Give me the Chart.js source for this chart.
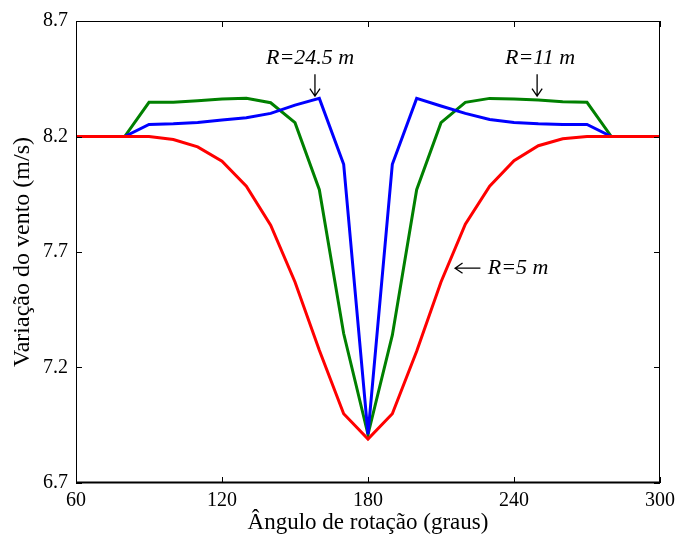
<!DOCTYPE html>
<html lang="pt">
  <head>
    <meta charset="UTF-8" />
    <title>Variação do vento</title>
    <script src="https://cdn.jsdelivr.net/npm/chart.js@4/dist/chart.umd.min.js"></script>
    <style>
      body {
        margin: 0;
        background: #fff;
      }
      .wrap {
        width: 678px;
        height: 539px;
      }
    </style>
  </head>
  <body>
    <div class="wrap"><canvas id="chart"></canvas></div>
    <script>
      // Angles (degrees)
      const angles = [60, 70, 80, 90, 100, 110, 120, 130, 140, 150, 160, 170, 180,
        190, 200, 210, 220, 230, 240, 250, 260, 270, 280, 290, 300];
      // R = 5 m
      const r5 = [8.2, 8.2, 8.2, 8.2, 8.187, 8.155, 8.093, 7.985, 7.816, 7.57, 7.275, 7.0, 6.89,
        7.0, 7.27, 7.57, 7.82, 7.985, 8.095, 8.16, 8.19, 8.2, 8.2, 8.2, 8.2];
      // R = 24.5 m
      const r245 = [8.2, 8.2, 8.2, 8.252, 8.255, 8.261, 8.271, 8.281, 8.3, 8.336, 8.365, 8.08, 6.91,
        8.08, 8.365, 8.332, 8.3, 8.274, 8.261, 8.255, 8.252, 8.252, 8.2, 8.2, 8.2];
      // R = 11 m
      const r11 = [8.2, 8.2, 8.2, 8.348, 8.348, 8.355, 8.362, 8.366, 8.346, 8.26, 7.97, 7.347, 6.91,
        7.34, 7.97, 8.26, 8.348, 8.365, 8.362, 8.358, 8.35, 8.348, 8.2, 8.2, 8.2];

      const xTicks = [60, 120, 180, 240, 300];
      const yTicks = [6.7, 7.2, 7.7, 8.2, 8.7];

      // annotations: text, label position, arrow from -> to (data coords)
      const notes = [
        { text: "R=24.5 m", x: 156.2, y: 8.54, align: "center", arrow: [158.2, 8.47, 158.2, 8.375] },
        { text: "R=11 m", x: 250.7, y: 8.54, align: "center", arrow: [249.5, 8.47, 249.5, 8.375] },
        { text: "R=5 m", x: 229.2, y: 7.63, align: "left", arrow: [226.2, 7.63, 215.8, 7.63] },
      ];

      const serif = "'Liberation Serif', 'Times New Roman', serif";

      const toPoints = (vals) => angles.map((a, i) => ({ x: a, y: vals[i] }));

      // box, inward ticks and annotations
      const framePlugin = {
        id: "frame",
        afterDraw(chart) {
          const ctx = chart.ctx;
          const a = chart.chartArea;
          const xs = chart.scales.x;
          const ys = chart.scales.y;
          ctx.save();
          ctx.strokeStyle = "#000";
          ctx.lineWidth = 1;
          ctx.strokeRect(a.left + 0.5, a.top + 0.5, a.right - a.left - 1, a.bottom - a.top - 1);
          ctx.beginPath();
          ctx.lineWidth = 2;
          ctx.moveTo(a.left, a.bottom - 0.5);
          ctx.lineTo(a.right, a.bottom - 0.5);
          ctx.stroke();
          ctx.lineWidth = 1;
          ctx.beginPath();
          xTicks.forEach((v) => {
            const px = Math.round(xs.getPixelForValue(v)) + 0.5;
            ctx.moveTo(px, a.bottom);
            ctx.lineTo(px, a.bottom - 6);
            ctx.moveTo(px, a.top);
            ctx.lineTo(px, a.top + 6);
          });
          yTicks.forEach((v) => {
            const py = Math.round(ys.getPixelForValue(v)) + 0.5;
            ctx.moveTo(a.left, py);
            ctx.lineTo(a.left + 6, py);
            ctx.moveTo(a.right, py);
            ctx.lineTo(a.right - 6, py);
          });
          ctx.stroke();

          ctx.fillStyle = "#000";
          ctx.font = "italic 22px " + serif;
          ctx.textBaseline = "middle";
          notes.forEach((n) => {
            ctx.textAlign = n.align;
            ctx.fillText(n.text, xs.getPixelForValue(n.x), ys.getPixelForValue(n.y));
            const x1 = xs.getPixelForValue(n.arrow[0]);
            const y1 = ys.getPixelForValue(n.arrow[1]);
            const x2 = xs.getPixelForValue(n.arrow[2]);
            const y2 = ys.getPixelForValue(n.arrow[3]);
            const ang = Math.atan2(y2 - y1, x2 - x1);
            const h = 9;
            ctx.beginPath();
            ctx.lineWidth = 1.3;
            ctx.moveTo(x1, y1);
            ctx.lineTo(x2, y2);
            ctx.moveTo(x2 - h * Math.cos(ang - 0.6), y2 - h * Math.sin(ang - 0.6));
            ctx.lineTo(x2, y2);
            ctx.lineTo(x2 - h * Math.cos(ang + 0.6), y2 - h * Math.sin(ang + 0.6));
            ctx.stroke();
          });
          ctx.restore();
        },
      };

      const lineStyle = { borderWidth: 3, pointRadius: 0, tension: 0, fill: false };

      new Chart(document.getElementById("chart"), {
        type: "line",
        data: {
          datasets: [
            { label: "R=5 m", data: toPoints(r5), borderColor: "#ff0000", ...lineStyle },
            { label: "R=24.5 m", data: toPoints(r245), borderColor: "#0000ff", ...lineStyle },
            { label: "R=11 m", data: toPoints(r11), borderColor: "#008000", ...lineStyle },
          ],
        },
        options: {
          responsive: true,
          maintainAspectRatio: false,
          animation: false,
          devicePixelRatio: 1,
          layout: { padding: { top: 21, right: 18, left: 0, bottom: 0 } },
          plugins: { legend: { display: false }, tooltip: { enabled: false } },
          scales: {
            x: {
              type: "linear",
              min: 60,
              max: 300,
              afterBuildTicks: (s) => { s.ticks = xTicks.map((v) => ({ value: v })); },
              afterFit: (s) => {
                s.height = 56;
                s.paddingLeft = 0;
                s.paddingRight = 0;
              },
              grid: { display: false, drawTicks: false },
              border: { display: false },
              ticks: { color: "#000", font: { family: serif, size: 20 }, padding: 6, maxRotation: 0 },
              title: {
                display: true,
                text: "Ângulo de rotação (graus)",
                color: "#000",
                font: { family: serif, size: 23 },
                padding: { top: 0, bottom: 2 },
              },
            },
            y: {
              min: 6.7,
              max: 8.7,
              afterBuildTicks: (s) => { s.ticks = yTicks.map((v) => ({ value: v })); },
              afterFit: (s) => { s.width = 76; },
              grid: { display: false, drawTicks: false },
              border: { display: false },
              ticks: {
                color: "#000",
                font: { family: serif, size: 20 },
                padding: 8,
                callback: (v) => v.toFixed(1),
              },
              title: {
                display: true,
                text: "Variação do vento (m/s)",
                color: "#000",
                font: { family: serif, size: 24 },
                padding: { top: 8, bottom: 6 },
              },
            },
          },
        },
        plugins: [framePlugin],
      });
    </script>
  </body>
</html>
